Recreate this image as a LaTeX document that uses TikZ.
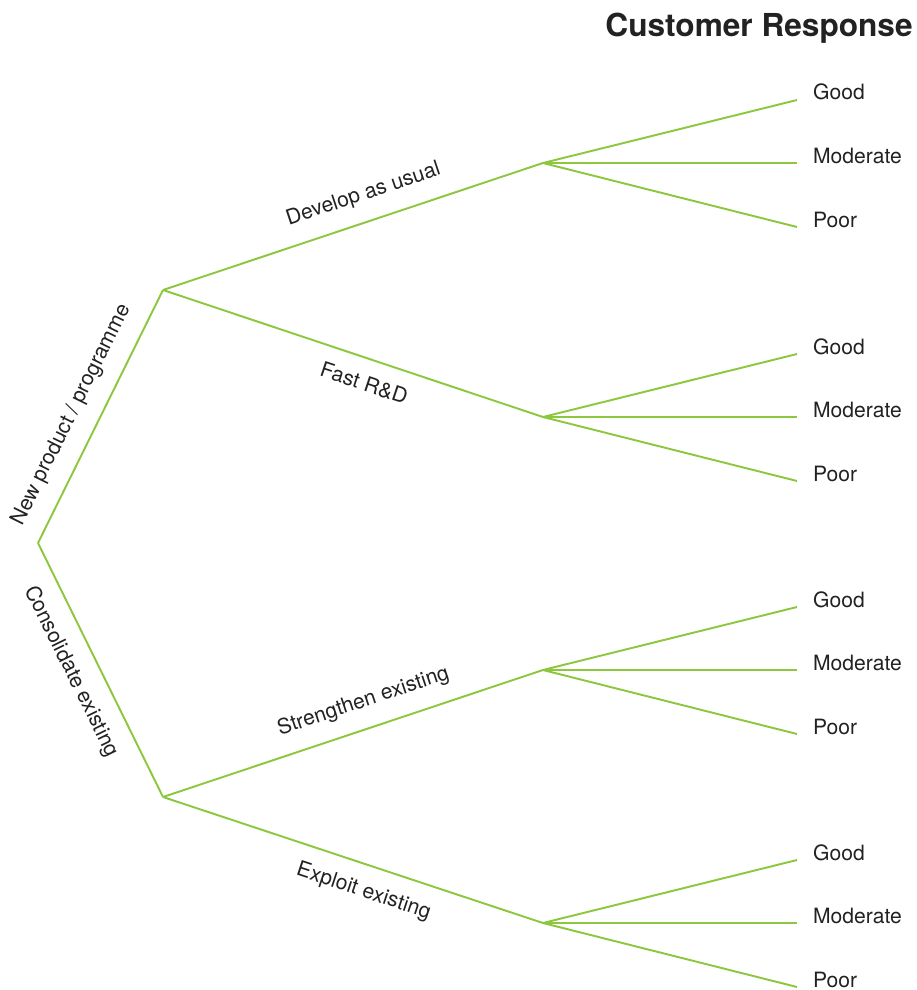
\documentclass[tikz,border=0pt]{standalone}
\usepackage{fontspec}
\setmainfont{TeX Gyre Heros}
\usetikzlibrary{positioning}
\definecolor{branchgreen}{RGB}{141,198,63}
\definecolor{labelgray}{RGB}{34,34,34}
\tikzset{
  branch/.style={draw=branchgreen, line width=1.1pt},
  leaf/.style={anchor=base west, inner xsep=9pt, inner ysep=0pt, text=labelgray, font=\fontsize{12}{14}\selectfont},
  choice/.style={sloped, inner sep=9pt, text=labelgray, font=\fontsize{12}{14}\selectfont},
  heading/.style={anchor=base east, inner sep=0pt, text=labelgray, font=\fontsize{18}{21}\selectfont\bfseries},
}

\begin{document}
\begin{tikzpicture}[x=0.02cm, y=-0.02cm]
\useasboundingbox (0,0) rectangle (916,990);
\node[heading] (T) at (913,37) {Customer Response};
%============
\coordinate (R) at (38,543);
\coordinate (N) at (163,290);
\coordinate (C) at (163,797);
\coordinate (ND) at (543,163);
\coordinate (NF) at (543,417);
\coordinate (CS) at (543,670);
\coordinate (CE) at (543,923);
%============
\node[leaf] (NDG) at (797,100) {Good};
\node[leaf] (NDM) at (797,163) {Moderate};
\node[leaf] (NDP) at (797,227) {Poor};
\node[leaf] (NFG) at (797,354) {Good};
\node[leaf] (NFM) at (797,417) {Moderate};
\node[leaf] (NFP) at (797,481) {Poor};
\node[leaf] (CSG) at (797,607) {Good};
\node[leaf] (CSM) at (797,670) {Moderate};
\node[leaf] (CSP) at (797,734) {Poor};
\node[leaf] (CEG) at (797,860) {Good};
\node[leaf] (CEM) at (797,923) {Moderate};
\node[leaf] (CEP) at (797,987) {Poor};
%==========

\draw[branch] (R) -- node[above, choice, pos=0.46] {New product / programme} (N);
\draw[branch] (R) -- node[below, choice, pos=0.46] {Consolidate existing} (C);

\draw[branch] (N) -- node[above, choice, pos=0.55] {Develop as usual} (ND);
\draw[branch] (N) -- node[below, choice, pos=0.55] {Fast R\&D} (NF);
\draw[branch] (C) -- node[above, choice, pos=0.55] {Strengthen existing} (CS);
\draw[branch] (C) -- node[below, choice, pos=0.55] {Exploit existing} (CE);

\draw[branch] (ND) -- (NDG.base west);
\draw[branch] (ND) -- (NDM.base west);
\draw[branch] (ND) -- (NDP.base west);
\draw[branch] (NF) -- (NFG.base west);
\draw[branch] (NF) -- (NFM.base west);
\draw[branch] (NF) -- (NFP.base west);
\draw[branch] (CS) -- (CSG.base west);
\draw[branch] (CS) -- (CSM.base west);
\draw[branch] (CS) -- (CSP.base west);
\draw[branch] (CE) -- (CEG.base west);
\draw[branch] (CE) -- (CEM.base west);
\draw[branch] (CE) -- (CEP.base west);

\end{tikzpicture}
\end{document}
